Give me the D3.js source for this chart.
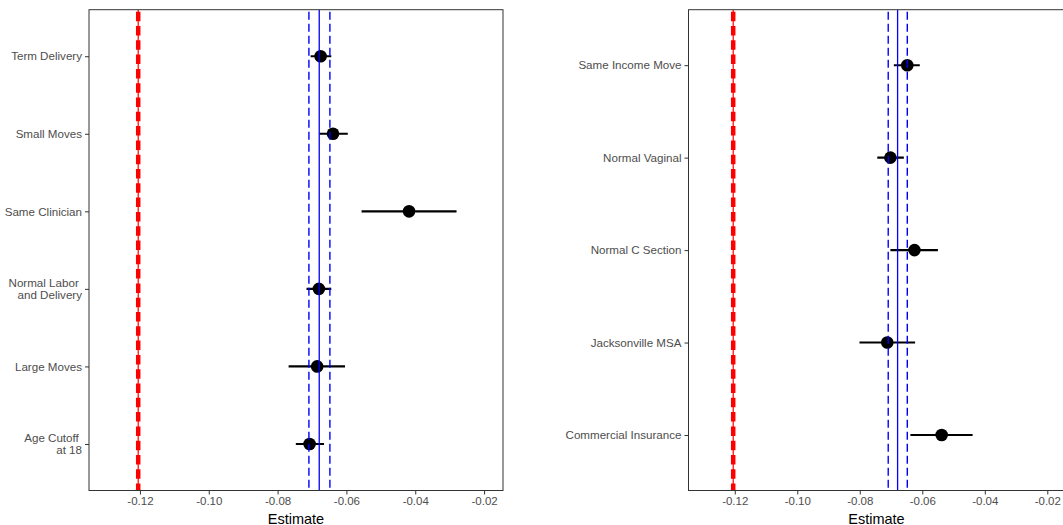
<!DOCTYPE html>
<html>
<head>
<meta charset="utf-8">
<script src="https://cdn.jsdelivr.net/npm/d3@7"></script>
<style>
  html, body { margin: 0; padding: 0; background: #fff; }
  svg { display: block; font-family: "Liberation Sans", Arial, Helvetica, sans-serif; }
</style>
</head>
<body>
<svg id="chart" width="1063" height="525"></svg>
<script>
// ---------- data ----------
const leftCategories = ["Term Delivery", "Small Moves", "Same Clinician", "Normal Labor \nand Delivery", "Large Moves", "Age Cutoff \nat 18"];
const leftEstimate = [-0.0675, -0.0639, -0.0418, -0.0680, -0.0685, -0.0707];
const leftLower    = [-0.0704, -0.0678, -0.0556, -0.0716, -0.0768, -0.0747];
const leftUpper    = [-0.0644, -0.0596, -0.0280, -0.0644, -0.0604, -0.0665];

const rightCategories = ["Same Income Move", "Normal Vaginal", "Normal C Section", "Jacksonville MSA", "Commercial Insurance"];
const rightEstimate = [-0.0648, -0.0702, -0.0625, -0.0712, -0.0538];
const rightLower    = [-0.0691, -0.0744, -0.0702, -0.0801, -0.0638];
const rightUpper    = [-0.0608, -0.0659, -0.0550, -0.0623, -0.0439];

const redLineValue = -0.1205;
const blueMean = -0.0679;
const blueLower = -0.0709;
const blueUpper = -0.0648;

const xDomain = [-0.1348, -0.0145];
const xTicks = [-0.12, -0.10, -0.08, -0.06, -0.04, -0.02];
const xTitle = "Estimate";

// ---------- drawing ----------
const svg = d3.select("#chart");
const fmt = v => d3.format(".2f")(v).replace("\u2212", "-");

function panel(cfg) {
  const { x0, x1, y0, y1, cats, est, lo, hi } = cfg;
  const g = svg.append("g");
  const x = d3.scaleLinear().domain(xDomain).range([x0, x1]);
  const y = d3.scalePoint().domain(cats).range([y0, y1]).padding(0.6);

  const clipId = "clip" + Math.round(x0);
  svg.append("clipPath").attr("id", clipId).append("rect")
    .attr("x", x0).attr("y", y0).attr("width", x1 - x0).attr("height", y1 - y0);
  const plot = g.append("g").attr("clip-path", `url(#${clipId})`);

  const rows = cats.map((c, i) => ({ c, e: est[i], l: lo[i], h: hi[i] }));

  // error bars
  plot.selectAll("line.err").data(rows).join("line")
    .attr("class", "err")
    .attr("x1", d => x(d.l)).attr("x2", d => x(d.h))
    .attr("y1", d => y(d.c)).attr("y2", d => y(d.c))
    .attr("stroke", "#000").attr("stroke-width", 2.1);

  // points
  plot.selectAll("circle.pt").data(rows).join("circle")
    .attr("class", "pt")
    .attr("cx", d => x(d.e)).attr("cy", d => y(d.c)).attr("r", 6.3)
    .attr("fill", "#000");

  // red reference line: thin solid + thick dashed
  plot.append("line")
    .attr("x1", x(redLineValue)).attr("x2", x(redLineValue))
    .attr("y1", y0).attr("y2", y1)
    .attr("stroke", "#ff0000").attr("stroke-width", 1.2);
  plot.append("line")
    .attr("x1", x(redLineValue)).attr("x2", x(redLineValue))
    .attr("y1", y0 + 2).attr("y2", y1)
    .attr("stroke", "#ff0000").attr("stroke-width", 4.5)
    .attr("stroke-dasharray", "9.5,4.8");

  // blue lines
  plot.append("line")
    .attr("x1", x(blueMean)).attr("x2", x(blueMean))
    .attr("y1", y0).attr("y2", y1)
    .attr("stroke", "#0000ff").attr("stroke-width", 1.3);
  [blueLower, blueUpper].forEach(v => {
    plot.append("line")
      .attr("x1", x(v)).attr("x2", x(v))
      .attr("y1", y0 + 2).attr("y2", y1)
      .attr("stroke", "#0000ff").attr("stroke-width", 1.4)
      .attr("stroke-dasharray", "8,4");
  });

  // border
  g.append("rect")
    .attr("x", x0).attr("y", y0).attr("width", x1 - x0).attr("height", y1 - y0)
    .attr("fill", "none").attr("stroke", "#333").attr("stroke-width", 1);

  // x axis
  const xa = g.append("g").attr("transform", `translate(0,${y1})`)
    .call(d3.axisBottom(x).tickValues(xTicks).tickFormat(fmt).tickSize(4).tickPadding(2.5));
  xa.select(".domain").remove();
  xa.selectAll(".tick line").attr("stroke", "#333");
  xa.selectAll(".tick text").attr("fill", "#4d4d4d").style("font-size", "11.5px")
    .style("font-family", "'Liberation Sans', Arial, sans-serif");

  // y axis
  const ya = g.append("g").attr("transform", `translate(${x0},0)`)
    .call(d3.axisLeft(y).tickSize(4).tickPadding(3));
  ya.select(".domain").remove();
  ya.selectAll(".tick line").attr("stroke", "#333");
  ya.selectAll(".tick text").each(function(d) {
    const t = d3.select(this);
    const lines = d.split("\n");
    const lh = 12.6;
    t.text(null).attr("dy", null)
      .attr("fill", "#4d4d4d").style("font-size", "11.6px")
      .style("white-space", "pre")
      .style("font-family", "'Liberation Sans', Arial, sans-serif");
    lines.forEach((ln, i) => {
      t.append("tspan").attr("x", -7)
        .attr("dy", i === 0 ? (0.32 * 11.6 - (lines.length - 1) / 2 * lh) + "px" : lh + "px")
        .text(ln);
    });
  });

  // x title
  g.append("text")
    .attr("x", (x0 + x1) / 2).attr("y", 523.5)
    .attr("text-anchor", "middle").attr("fill", "#000")
    .style("font-size", "14.5px")
    .text(xTitle);
}

panel({ x0: 89, x1: 503, y0: 9.7, y1: 490.5, cats: leftCategories, est: leftEstimate, lo: leftLower, hi: leftUpper });
panel({ x0: 688.5, x1: 1064.5, y0: 9.7, y1: 490.5, cats: rightCategories, est: rightEstimate, lo: rightLower, hi: rightUpper });
</script>
</body>
</html>
